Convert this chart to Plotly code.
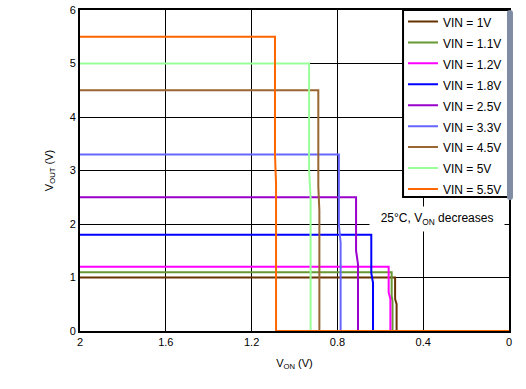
import plotly.graph_objects as go

vin_labels = ["VIN = 1V", "VIN = 1.1V", "VIN = 1.2V", "VIN = 1.8V", "VIN = 2.5V",
              "VIN = 3.3V", "VIN = 4.5V", "VIN = 5V", "VIN = 5.5V"]
vout = [1.0, 1.1, 1.2, 1.8, 2.5, 3.3, 4.5, 5.0, 5.5]
von_top = [0.531, 0.547, 0.561, 0.642, 0.713, 0.793, 0.889, 0.932, 1.091]
von_bot = [0.524, 0.543, 0.553, 0.634, 0.704, 0.785, 0.884, 0.925, 1.086]
colors = ["#663300", "#669933", "#FF00FF", "#0000FF", "#9900CC",
          "#6666FF", "#996633", "#99FF99", "#FF6600"]

fig = go.Figure()
for lab, v, t1, t2, c in zip(vin_labels, vout, von_top, von_bot, colors):
    fig.add_trace(go.Scatter(
        x=[2.0, t1, t1, t2, t2, 0.0],
        y=[v, v, v * 0.6, v * 0.5, 0.0, 0.0],
        mode="lines", name='<span style="font-size:12px">' + lab + "</span>",
        line=dict(color=c, width=2),
    ))

# legend frame (white box with black border) behind the legend entries
fig.add_shape(
    type="rect", xref="paper", yref="paper",
    x0=0.753, x1=1.0, y0=0.4174, y1=1.0,
    fillcolor="white", line=dict(color="black", width=2), layer="above",
)

fig.add_annotation(
    x=0.336, y=2.09, xref="x", yref="y",
    text="  25°C, V<sub>ON</sub> decreases  ",
    showarrow=False, bgcolor="white", borderpad=4,
    font=dict(size=12, color="black"),
)

fig.update_layout(
    width=526, height=389,
    margin=dict(l=80, r=17, t=10, b=58, autoexpand=False),
    paper_bgcolor="white", plot_bgcolor="white",
    font=dict(family="Liberation Sans, Arial, sans-serif", size=11, color="black"),
    showlegend=True,
    legend=dict(
        x=0.9953, y=1.0125, xanchor="right", yanchor="top",
        bgcolor="rgba(0,0,0,0)", borderwidth=0,
        font=dict(size=13.8), tracegroupgap=0,
    ),
    xaxis=dict(
        range=[2, 0], tickvals=[2, 1.6, 1.2, 0.8, 0.4, 0],
        ticktext=["2", "1.6", "1.2", "0.8", "0.4", "0"],
        showgrid=True, gridcolor="black", gridwidth=1,
        showline=True, linecolor="black", linewidth=2, mirror=True,
        zeroline=False, ticks="", automargin=False,
        title=dict(text="V<sub>ON</sub> (V)", standoff=12, font=dict(size=11)),
    ),
    yaxis=dict(
        range=[0, 6], tickvals=[0, 1, 2, 3, 4, 5, 6],
        showgrid=True, gridcolor="black", gridwidth=1,
        showline=True, linecolor="black", linewidth=2, mirror=True,
        zeroline=False, ticks="", ticklen=0, automargin=False,
        title=dict(text="V<sub>OUT</sub> (V)", standoff=14, font=dict(size=11)),
    ),
)

fig.write_html("out.html", post_script="document.body.style.margin='0';",
               config={"displayModeBar": False})
